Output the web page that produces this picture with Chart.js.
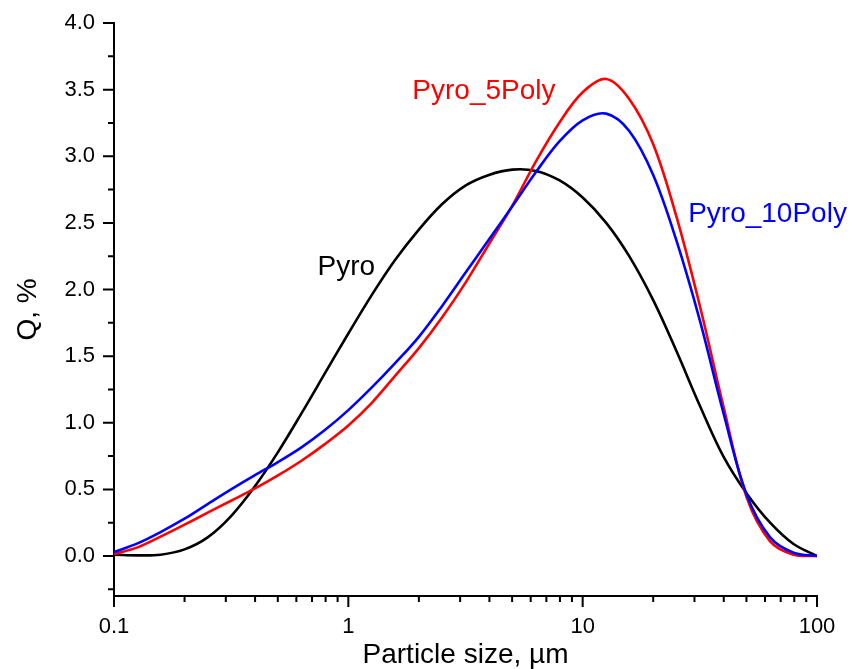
<!DOCTYPE html>
<html>
<head>
<meta charset="utf-8">
<script src="https://cdn.jsdelivr.net/npm/chart.js@4.4.0/dist/chart.umd.min.js"></script>
<style>
  html, body { margin: 0; padding: 0; background: #fff; }
</style>
</head>
<body>
<canvas id="chart" width="851" height="669"></canvas>
<script>
// particle size, um (10 bins per decade)
var sizes = [0.1, 0.126, 0.158, 0.2, 0.251, 0.316, 0.398, 0.501, 0.631, 0.794,
             1, 1.26, 1.58, 2, 2.51, 3.16, 3.98, 5.01, 6.31, 7.94,
             10, 12.6, 15.8, 20, 25.1, 31.6, 39.8, 50.1, 63.1, 79.4, 100];
// Q, %
var pyro = [0.01, 0.005, 0.01, 0.05, 0.14, 0.30, 0.52, 0.78, 1.07, 1.37,
            1.67, 1.96, 2.22, 2.45, 2.64, 2.78, 2.86, 2.90, 2.89, 2.82,
            2.69, 2.50, 2.25, 1.92, 1.54, 1.13, 0.75, 0.47, 0.25, 0.09, 0.0];
var pyro5 = [0.015, 0.065, 0.145, 0.235, 0.325, 0.415, 0.505, 0.605, 0.715, 0.84,
             0.98, 1.15, 1.35, 1.56, 1.79, 2.05, 2.34, 2.63, 2.96, 3.25,
             3.48, 3.58, 3.43, 3.09, 2.55, 1.88, 1.13, 0.44, 0.11, 0.01, 0.0];
var pyro10 = [0.03, 0.095, 0.18, 0.28, 0.39, 0.50, 0.605, 0.705, 0.815, 0.945,
              1.095, 1.265, 1.445, 1.645, 1.875, 2.125, 2.375, 2.625, 2.88, 3.11,
              3.27, 3.32, 3.19, 2.86, 2.37, 1.77, 1.08, 0.46, 0.14, 0.025, 0.0];

var xTicks = [0.1, 1, 10, 100];
var xMinorTicks = [0.2, 0.3, 0.4, 0.5, 0.6, 0.7, 0.8, 0.9, 2, 3, 4, 5, 6, 7, 8, 9, 20, 30, 40, 50, 60, 70, 80, 90];
var yTicks = [0.0, 0.5, 1.0, 1.5, 2.0, 2.5, 3.0, 3.5, 4.0];
var yMinorTicks = [-0.25, 0.25, 0.75, 1.25, 1.75, 2.25, 2.75, 3.25, 3.75];

var FONT = '"Liberation Sans", Arial, sans-serif';

function points(ys) {
  return sizes.map(function(x, i) { return {x: x, y: ys[i]}; });
}

// tick marks: long for labelled ticks, short for minor ones
var tickMarks = {
  id: 'tickMarks',
  afterDraw: function(chart) {
    var ctx = chart.ctx, xs = chart.scales.x, ys = chart.scales.y;
    var left = chart.chartArea.left, bottom = chart.chartArea.bottom;
    ctx.save();
    ctx.strokeStyle = '#000';
    ctx.lineWidth = 2;
    ctx.beginPath();
    xTicks.forEach(function(v) {
      var px = xs.getPixelForValue(v);
      ctx.moveTo(px, bottom); ctx.lineTo(px, bottom + 11);
    });
    xMinorTicks.forEach(function(v) {
      var px = xs.getPixelForValue(v);
      ctx.moveTo(px, bottom); ctx.lineTo(px, bottom + 6);
    });
    yTicks.forEach(function(v) {
      var py = ys.getPixelForValue(v);
      ctx.moveTo(left, py); ctx.lineTo(left - 11, py);
    });
    yMinorTicks.forEach(function(v) {
      var py = ys.getPixelForValue(v);
      ctx.moveTo(left, py); ctx.lineTo(left - 6, py);
    });
    ctx.stroke();
    ctx.restore();
  }
};

// series names written next to the curves
var curveLabels = {
  id: 'curveLabels',
  afterDatasetsDraw: function(chart) {
    var ctx = chart.ctx, xs = chart.scales.x, ys = chart.scales.y;
    ctx.save();
    ctx.font = '28px ' + FONT;
    ctx.textAlign = 'center';
    ctx.textBaseline = 'alphabetic';
    chart.data.datasets.forEach(function(ds) {
      ctx.fillStyle = ds.borderColor;
      ctx.fillText(ds.label, xs.getPixelForValue(ds.tagAt[0]), ys.getPixelForValue(ds.tagAt[1]));
    });
    ctx.restore();
  }
};

var ctx = document.getElementById('chart').getContext('2d');
var chart = new Chart(ctx, {
  type: 'line',
  data: {
    datasets: [
      {label: 'Pyro_10Poly', data: points(pyro10), borderColor: '#0000ff', tagAt: [61.5, 2.505]},
      {label: 'Pyro_5Poly', data: points(pyro5), borderColor: '#ff0000', tagAt: [3.79, 3.43]},
      {label: 'Pyro', data: points(pyro), borderColor: '#000000', tagAt: [0.98, 2.11]}
    ]
  },
  options: {
    responsive: false,
    animation: false,
    devicePixelRatio: 1,
    layout: {padding: {top: 23, right: 34, left: 0, bottom: 0}},
    elements: {
      point: {radius: 0},
      line: {borderWidth: 2.6, tension: 0.35, fill: false}
    },
    plugins: {legend: {display: false}, tooltip: {enabled: false}},
    scales: {
      x: {
        type: 'logarithmic',
        min: 0.1,
        max: 100,
        grid: {display: false, drawTicks: false},
        border: {display: true, color: '#000', width: 2},
        afterBuildTicks: function(scale) {
          scale.ticks = xTicks.map(function(v) { return {value: v, major: true}; });
        },
        afterFit: function(scale) {
          scale.height = 73;
          scale.paddingLeft = 0;
          scale.paddingRight = 0;
        },
        ticks: {
          autoSkip: false,
          maxRotation: 0,
          padding: 18,
          color: '#000',
          font: {size: 22, family: FONT},
          callback: function(v) { return String(v); }
        },
        title: {
          display: true,
          text: 'Particle size, µm',
          color: '#000',
          font: {size: 28, family: FONT, lineHeight: 1},
          padding: {top: 0, bottom: 0}
        }
      },
      y: {
        min: -0.3,
        max: 4.0,
        grid: {display: false, drawTicks: false},
        border: {display: true, color: '#000', width: 2},
        afterBuildTicks: function(scale) {
          scale.ticks = yTicks.map(function(v) { return {value: v}; });
        },
        afterFit: function(scale) {
          scale.width = 114;
          scale.paddingTop = 0;
          scale.paddingBottom = 0;
        },
        ticks: {
          padding: 19,
          color: '#000',
          font: {size: 22, family: FONT},
          callback: function(v) { return v.toFixed(1); }
        },
        title: {
          display: true,
          text: 'Q, %',
          color: '#000',
          font: {size: 28, family: FONT, lineHeight: 1},
          padding: {top: 14, bottom: 0}
        }
      }
    }
  },
  plugins: [tickMarks, curveLabels]
});
</script>
</body>
</html>
